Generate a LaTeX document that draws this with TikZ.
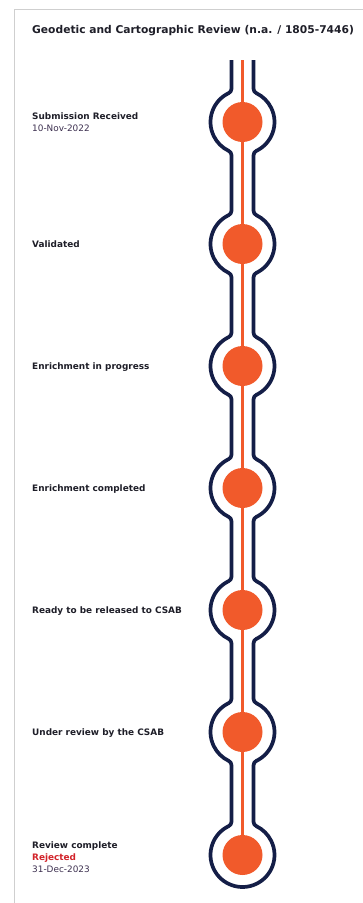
\documentclass[tikz,border=0pt]{standalone}
\usepackage{fontspec}
\setmainfont{DejaVu Sans}
\definecolor{navy}{HTML}{141E47}
\definecolor{dotorange}{HTML}{F15A2B}
\definecolor{framegray}{HTML}{CFCFCF}
\definecolor{txt}{HTML}{1E1E28}
\definecolor{rejred}{HTML}{D2232A}
\definecolor{datecol}{HTML}{3C2F4F}
\def\ha{11}
\def\RR{32}
\def\rr{5}
\pgfmathsetmacro\yc{sqrt((\RR+\rr)^2-(\ha+\rr)^2)}
\pgfmathsetmacro\be{atan(\yc/(\ha+\rr))}
\pgfmathsetmacro\xl{242.5-\ha}
\pgfmathsetmacro\xr{242.5+\ha}
\tikzset{
  dot/.style={circle, fill=dotorange, minimum size=40pt, inner sep=0pt},
  lbl/.style={anchor=west, align=left, text=txt, font=\bfseries\fontsize{8.9}{12}\selectfont, inner sep=0pt},
  titletext/.style={anchor=west, text=txt, font=\bfseries\fontsize{10.7}{13}\selectfont, inner sep=0pt},
  channel/.style={draw=navy, line width=3.7pt},
  spine/.style={draw=dotorange, line width=3pt},
  frame/.style={draw=framegray, line width=1.5pt}
}
\begin{document}
\begin{tikzpicture}[x=1pt,y=1pt]
\useasboundingbox (0,0) rectangle (363,-903);
\draw[frame] (14.5,-903) -- (14.5,-9.5) -- (363,-9.5);
\node[titletext] (title) at (32,-30.5) {Geodetic and Cartographic Review (n.a. / 1805-7446)};
% navy channel
\draw[channel] (\xl,-60)
  \foreach \cy in {122,244,366,488,610,732} {
    -- (\xl,{-\cy+\yc}) arc[start angle=0,end angle=-\be,radius=\rr]
    arc[start angle=180-\be,end angle=180+\be,radius=\RR]
    arc[start angle=\be,end angle=0,radius=\rr]
  }
  -- (\xl,{-855+\yc}) arc[start angle=0,end angle=-\be,radius=\rr]
  arc[start angle=180-\be,end angle=360+\be,radius=\RR]
  arc[start angle=180+\be,end angle=180,radius=\rr]
  \foreach \cy in {732,610,488,366,244,122} {
    -- (\xr,{-\cy-\yc}) arc[start angle=180,end angle=180-\be,radius=\rr]
    arc[start angle=-\be,end angle=\be,radius=\RR]
    arc[start angle=180+\be,end angle=180,radius=\rr]
  }
  -- (\xr,-60);
% orange spine
\coordinate (top) at (242.5,-60);
\coordinate (bot) at (242.5,-855);
\draw[spine] (top) -- (bot);
\foreach \i/\cy in {1/122,2/244,3/366,4/488,5/610,6/732,7/855} {
  \node[dot] (d\i) at (242.5,-\cy) {};
}
\node[lbl] (l1) at (32,-122) {Submission Received\\{\mdseries\color{datecol}10-Nov-2022}};
\node[lbl] (l2) at (32,-244) {Validated};
\node[lbl] (l3) at (32,-367) {Enrichment in progress};
\node[lbl] (l4) at (32,-489) {Enrichment completed};
\node[lbl] (l5) at (32,-611) {Ready to be released to CSAB};
\node[lbl] (l6) at (32,-733) {Under review by the CSAB};
\node[lbl] (l7) at (32,-857.5) {Review complete\\{\color{rejred}Rejected}\\{\mdseries\color{datecol}31-Dec-2023}};
\end{tikzpicture}
\end{document}
